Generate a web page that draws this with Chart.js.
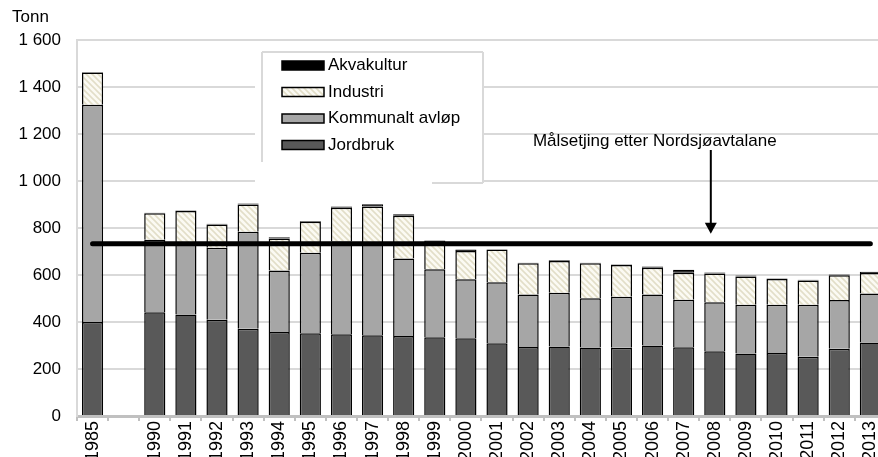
<!DOCTYPE html>
<html>
<head>
<meta charset="utf-8">
<script src="https://cdn.jsdelivr.net/npm/chart.js@4.4.0/dist/chart.umd.min.js"></script>
<style>
html,body{margin:0;padding:0;background:#fff;overflow:hidden;}
#wrap{position:relative;width:892px;height:457px;}
</style>
</head>
<body>
<div id="wrap"><canvas id="c" width="892" height="457"></canvas></div>
<script>
// ---- data ----
const categories = ['1985','','1990','1991','1992','1993','1994','1995','1996','1997','1998','1999','2000','2001','2002','2003','2004','2005','2006','2007','2008','2009','2010','2011','2012','2013'];
const jordbruk   = [400,null,441,432,410,371,357,352,348,344,340,335,331,310,294,296,292,290,300,293,276,266,268,252,286,313];
const kommunalt  = [925,null,309,308,306,413,262,343,395,394,330,289,251,259,223,228,209,217,217,202,208,207,205,221,208,208];
const industri   = [137,null,113,132,99,116,136,132,143,154,182,114,120,139,133,136,149,136,114,115,122,121,110,104,105,87];
const akvakultur = [2,null,2,3,3,4,6,3,5,9,7,9,6,2,2,3,2,2,5,12,5,4,2,3,3,6];
const target = 733;
const targetLine = categories.map(() => target);
const seriesNames = ['Akvakultur','Industri','Kommunalt avløp','Jordbruk'];
const yTicks = [0,200,400,600,800,1000,1200,1400,1600];
const unitLabel = 'Tonn';
const noteText = 'Målsetjing etter Nordsjøavtalane';

const FONT = 'Liberation Sans, Arial, sans-serif';
const ctx = document.getElementById('c').getContext('2d');

function makeHatch(){
  const s = 6;
  const c = document.createElement('canvas'); c.width = s; c.height = s;
  const g = c.getContext('2d');
  g.fillStyle = '#fbfaf3'; g.fillRect(0,0,s,s);
  g.strokeStyle = '#e2dec8'; g.lineWidth = 1.6;
  g.beginPath();
  g.moveTo(-1,-1); g.lineTo(s+1,s+1);
  g.moveTo(-1-s,-1); g.lineTo(1,s+1);
  g.moveTo(s-1,-1); g.lineTo(2*s+1,s+1);
  g.stroke();
  return ctx.createPattern(c,'repeat');
}
const hatch = makeHatch();

const colors = {
  'Akvakultur': '#000000',
  'Industri': hatch,
  'Kommunalt avløp': '#a6a6a6',
  'Jordbruk': '#595959'
};

function fmt(v){ return String(v).replace(/\B(?=(\d{3})+(?!\d))/g,' '); }

const barCommon = {type:'bar', stack:'s', borderColor:'#000', borderWidth:1.5, barPercentage:0.68, categoryPercentage:1.0, order:2};

const annot = {
  id:'annot',
  beforeDatasetsDraw(chart){
    const c = chart.ctx;
    // legend box (white, covering gridlines)
    c.save();
    c.fillStyle = '#fff';
    c.fillRect(255, 52, 228, 131);
    c.strokeStyle = '#d9d9d9'; c.lineWidth = 2;
    c.beginPath();
    c.moveTo(262,52); c.lineTo(483,52);
    c.moveTo(262,52); c.lineTo(262,162);
    c.moveTo(483,52); c.lineTo(483,183);
    c.moveTo(432,183); c.lineTo(483,183);
    c.stroke();
    const rows = [65.5, 92, 118.5, 145];
    seriesNames.forEach((n,i)=>{
      const y = rows[i];
      c.fillStyle = colors[n];
      c.fillRect(282, y-4.5, 42, 9);
      c.strokeStyle = '#000'; c.lineWidth = 1.5;
      c.strokeRect(282, y-4.5, 42, 9);
      c.fillStyle = '#000';
      c.font = '17px ' + FONT;
      c.textBaseline = 'middle'; c.textAlign = 'left';
      c.fillText(n, 328, y);
    });
    c.restore();
  },
  afterDraw(chart){
    const c = chart.ctx;
    const xs = chart.scales.x, ys = chart.scales.y;
    c.save();
    c.fillStyle = '#000';
    c.font = '17px ' + FONT;
    c.textBaseline = 'middle'; c.textAlign = 'left';
    c.fillText(unitLabel, 12, 17);
    // annotation arrow
    const ax = xs.getPixelForValue(20) - 4;
    const tipY = ys.getPixelForValue(target) - 10;
    c.textAlign = 'center'; c.textBaseline = 'alphabetic';
    c.fillText(noteText, ax - 56, 146);
    c.strokeStyle = '#000'; c.lineWidth = 2;
    c.beginPath(); c.moveTo(ax, 150); c.lineTo(ax, tipY - 8); c.stroke();
    c.beginPath(); c.moveTo(ax-6, tipY-11); c.lineTo(ax+6, tipY-11); c.lineTo(ax, tipY); c.closePath(); c.fill();
    c.restore();
  }
};

new Chart(ctx, {
  data: {
    labels: categories,
    datasets: [
      Object.assign({}, barCommon, {label:'Jordbruk', data:jordbruk, backgroundColor:colors['Jordbruk']}),
      Object.assign({}, barCommon, {label:'Kommunalt avløp', data:kommunalt, backgroundColor:colors['Kommunalt avløp']}),
      Object.assign({}, barCommon, {label:'Industri', data:industri, backgroundColor:colors['Industri']}),
      Object.assign({}, barCommon, {label:'Akvakultur', data:akvakultur, backgroundColor:colors['Akvakultur']}),
      {type:'line', label:'Mål', data:targetLine, stack:'t', borderColor:'#000', borderWidth:5, borderCapStyle:'round', pointRadius:0, fill:false, order:0, tension:0}
    ]
  },
  options: {
    responsive:false,
    animation:false,
    devicePixelRatio:1,
    layout:{padding:{left:0,right:2,top:40,bottom:0}},
    plugins:{legend:{display:false}, tooltip:{enabled:false}},
    scales:{
      x:{
        stacked:true,
        grid:{display:true, drawOnChartArea:false, drawTicks:true, tickLength:5, color:'#c0c0c0', lineWidth:2, offset:true},
        border:{display:true, color:'#c0c0c0', width:3},
        ticks:{autoSkip:false, maxRotation:90, minRotation:90, padding:0, color:'#000', font:{family:FONT, size:18}},
        afterFit(s){ s.height = 41; }
      },
      y:{
        stacked:true,
        min:0, max:1600,
        afterBuildTicks(s){ s.ticks = yTicks.map(v=>({value:v})); },
        grid:{color:'#d9d9d9', lineWidth:2, drawTicks:false},
        border:{display:true, color:'#d9d9d9', width:2},
        ticks:{padding:16, color:'#000', font:{family:FONT, size:17}, callback:(v)=>fmt(v)},
        afterFit(s){ s.width = 77; }
      }
    }
  },
  plugins:[annot]
});
</script>
</body>
</html>
